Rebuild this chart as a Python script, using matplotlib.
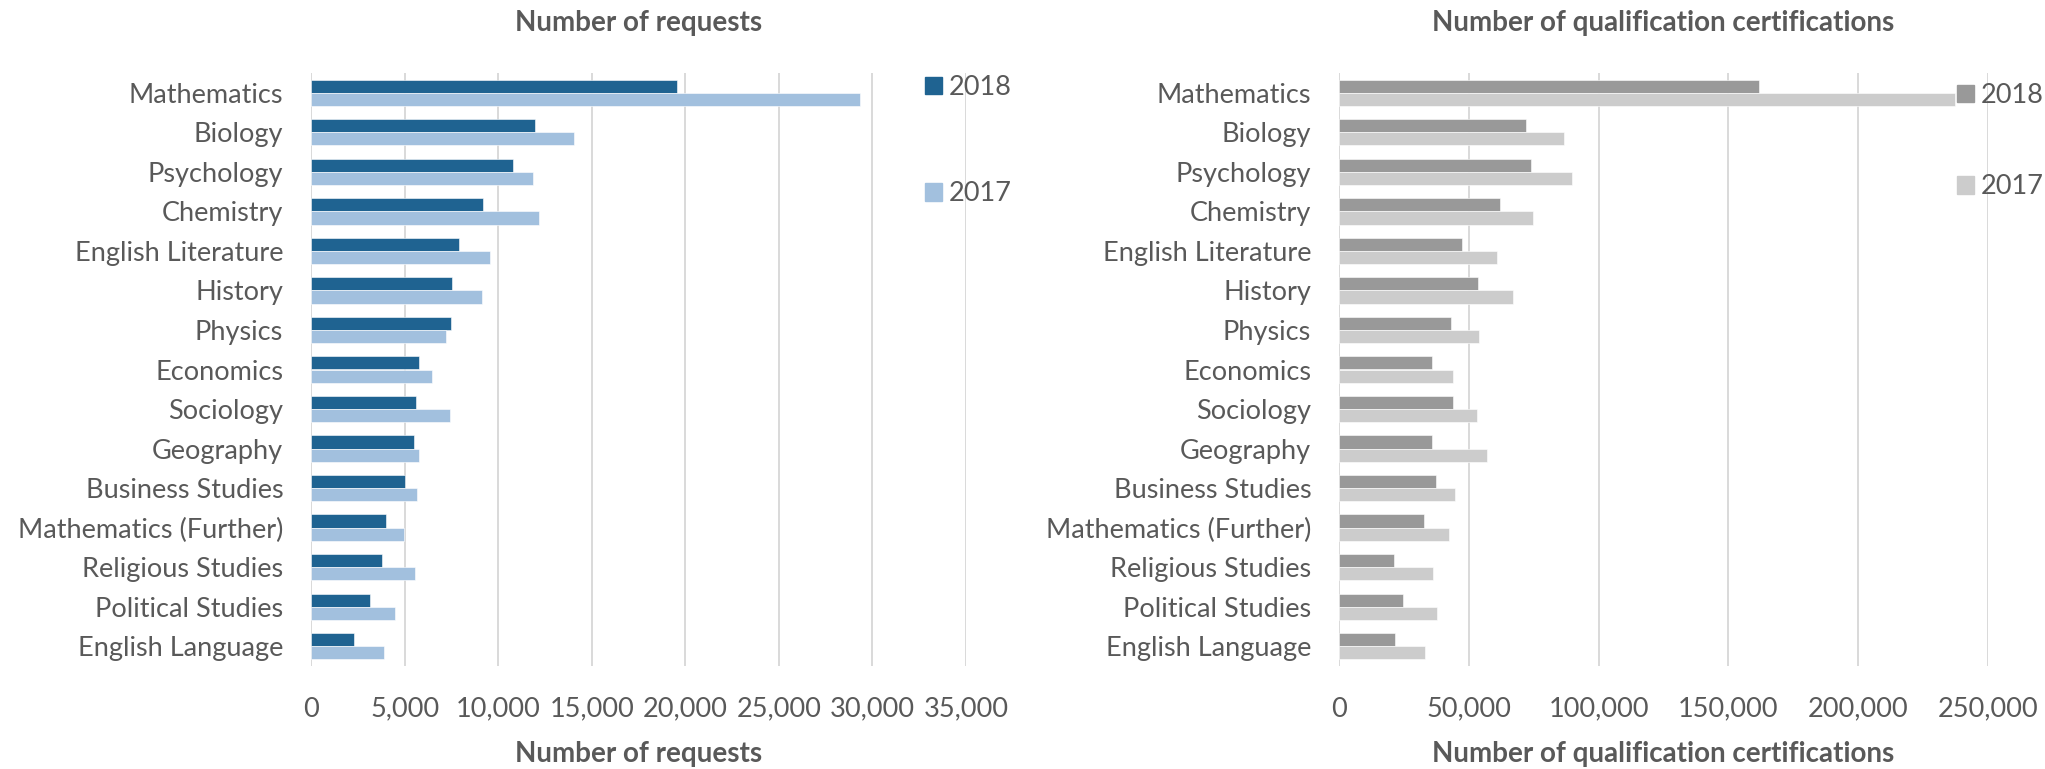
import matplotlib.pyplot as plt
import numpy as np
from matplotlib.ticker import StrMethodFormatter
from matplotlib.patches import Patch

plt.rcParams['font.family'] = ['Lato', 'DejaVu Sans']

subjects = ["Mathematics", "Biology", "Psychology", "Chemistry", "English Literature",
            "History", "Physics", "Economics", "Sociology", "Geography",
            "Business Studies", "Mathematics (Further)", "Religious Studies",
            "Political Studies", "English Language"]

requests_2018 = [19540, 11970, 10820, 9210, 7930, 7545, 7495, 5780, 5600, 5500,
                 5040, 4015, 3810, 3170, 2300]
requests_2017 = [29340, 14040, 11870, 12200, 9590, 9160, 7190, 6445, 7440, 5750,
                 5680, 4960, 5550, 4480, 3890]

certs_2018 = [161600, 72200, 73900, 62100, 47400, 53700, 43300, 35900, 43800, 35900,
              37300, 32600, 21100, 24500, 21700]
certs_2017 = [237300, 86600, 89800, 74800, 60900, 66900, 54000, 44000, 53200, 57200,
              44700, 42300, 36400, 37900, 33300]

text_c = '#595959'
grid_c = '#d9d9d9'

fig = plt.figure(figsize=(20.45, 7.69), dpi=100)
W, H = 2045, 769
ax_l = fig.add_axes([311 / W, (H - 666) / H, (966 - 311) / W, (666 - 73) / H])
ax_r = fig.add_axes([1339 / W, (H - 666) / H, (1988 - 1339) / W, (666 - 73) / H])


def draw(ax, v18, v17, colors, xmax, step, title, leg_anchor, leg_space):
    y = np.arange(len(subjects))
    h = 1 / 3
    ax.barh(y - h / 2, v18, height=h, color=colors[0], edgecolor='white', linewidth=0.4, zorder=3)
    ax.barh(y + h / 2, v17, height=h, color=colors[1], edgecolor='white', linewidth=0.4, zorder=3)
    ax.set_ylim(len(subjects) - 0.5, -0.5)
    ax.set_xlim(0, xmax)
    ax.set_xticks(np.arange(0, xmax + 1, step))
    ax.xaxis.set_major_formatter(StrMethodFormatter('{x:,.0f}'))
    ax.set_yticks(y)
    ax.set_yticklabels(subjects)
    for s in ax.spines.values():
        s.set_visible(False)
    ax.grid(axis='x', color=grid_c, linewidth=1.4, zorder=0)
    ax.tick_params(axis='both', length=0, labelsize=19.5, colors=text_c)
    ax.tick_params(axis='y', pad=20)
    ax.tick_params(axis='x', pad=22)
    ax.set_title(title, fontsize=20, fontweight='bold', color=text_c, pad=30)
    ax.set_xlabel(title, fontsize=20, fontweight='bold', color=text_c, labelpad=14)
    handles = [Patch(color=colors[0], label='2018'), Patch(color=colors[1], label='2017')]
    fig.legend(handles=handles, loc='upper left', bbox_to_anchor=leg_anchor,
               frameon=False, fontsize=19.5, labelcolor=text_c, borderpad=0,
               handlelength=0.63, handleheight=0.63, handletextpad=0.26,
               labelspacing=leg_space, borderaxespad=0)


draw(ax_l, requests_2018, requests_2017, ['#1f6391', '#a2c0de'], 35000, 5000,
     'Number of requests', (925 / W, 1 - 75 / H), 3.0)
draw(ax_r, certs_2018, certs_2017, ['#999999', '#cccccc'], 250000, 50000,
     'Number of qualification certifications', (1957 / W, 1 - 83 / H), 2.45)

fig.savefig('out.png', dpi=100)
